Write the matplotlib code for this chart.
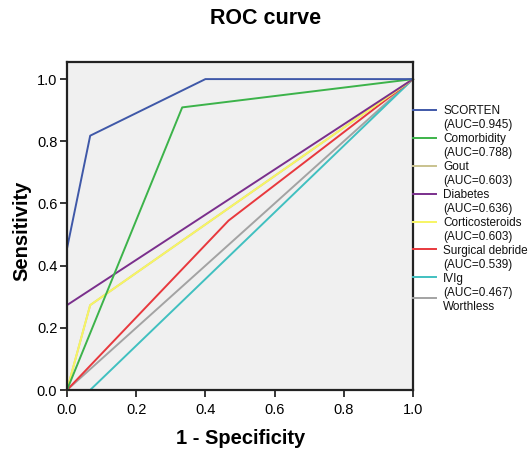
import matplotlib
matplotlib.use("Agg")
import matplotlib.pyplot as plt
from matplotlib.lines import Line2D

plt.rcParams['font.family'] = ['Liberation Sans', 'DejaVu Sans']

# ROC curve points (1 - specificity, sensitivity)
names = ['SCORTEN', 'Comorbidity', 'Gout', 'Diabetes', 'Corticosteroids',
         'Surgical debride', 'IVIg', 'Worthless']
aucs = [0.945, 0.788, 0.603, 0.636, 0.603, 0.539, 0.467, None]
colors = ['#3f58a8', '#3cb34a', '#c9c28e', '#7a2f8c', '#f7f563',
          '#e8383d', '#40c0c0', '#a3a3a3']

fpr_scorten = [0, 0, 0.067, 0.4, 1]
tpr_scorten = [0, 0.455, 0.818, 1, 1]
fpr_comorb = [0, 0.333, 1]
tpr_comorb = [0, 0.909, 1]
fpr_gout = [0, 0.067, 1]
tpr_gout = [0, 0.273, 1]
fpr_diab = [0, 0, 1]
tpr_diab = [0, 0.273, 1]
fpr_cort = [0, 0.067, 1]
tpr_cort = [0, 0.273, 1]
fpr_surg = [0, 0.467, 1]
tpr_surg = [0, 0.545, 1]
fpr_ivig = [0, 0.067, 1]
tpr_ivig = [0, 0, 1]
fpr_ref = [0, 1]
tpr_ref = [0, 1]

curves = [(fpr_scorten, tpr_scorten), (fpr_comorb, tpr_comorb),
          (fpr_gout, tpr_gout), (fpr_diab, tpr_diab), (fpr_cort, tpr_cort),
          (fpr_surg, tpr_surg), (fpr_ivig, tpr_ivig), (fpr_ref, tpr_ref)]

ticks = [0.0, 0.2, 0.4, 0.6, 0.8, 1.0]

fig = plt.figure(figsize=(5.28, 4.51), dpi=100)
ax = fig.add_axes([67/528, 1 - 390/451, 346/528, 328/451])
ax.set_facecolor('#f0f0f0')

# grey reference drawn first, then the rest (below the spines)
order = [7, 6, 5, 2, 4, 3, 1, 0]
for i in order:
    x, y = curves[i]
    ax.plot(x, y, color=colors[i], lw=1.4, clip_on=False, zorder=2)

ax.set_xlim(0, 1)
ax.set_ylim(0, 1.055)
ax.set_xticks(ticks)
ax.set_yticks(ticks)
ax.set_xticklabels([f'{t:.1f}' for t in ticks], fontsize=10.5)
ax.set_yticklabels([f'{t:.1f}' for t in ticks], fontsize=10.5)
ax.tick_params(axis='x', direction='out', length=5, width=1.1, color='black', pad=4)
ax.tick_params(axis='y', direction='out', length=5, width=1.1, color='black', pad=2)
for s in ax.spines.values():
    s.set_linewidth(1.6)
    s.set_color('#222222')
    s.set_zorder(3)

fig.text(266/528, 1 - 18/451, 'ROC curve', ha='center', va='center',
         fontsize=15.5, fontweight='bold')
fig.text(241/528, 1 - 438/451, '1 - Specificity', ha='center', va='center',
         fontsize=14.5, fontweight='bold')
fig.text(22/528, 1 - 231/451, 'Sensitivity', ha='center', va='center',
         fontsize=14.5, fontweight='bold', rotation=90)

# legend outside the plot, SPSS style
line_y = [110, 138, 166, 194, 222, 249, 277, 298]
text_lines = []
for n, a in zip(names, aucs):
    text_lines.append(n)
    if a is not None:
        text_lines.append(f'(AUC={a:.3f})')
for k, t in enumerate(text_lines):
    fig.text(443/528, 1 - (111 + 14.0 * k)/451, t, ha='left', va='center',
             fontsize=8.5, color='#111111')
for c, ly in zip(colors, line_y):
    fig.add_artist(Line2D([413/528, 436/528], [1 - ly/451, 1 - ly/451],
                          color=c, lw=1.4, transform=fig.transFigure))

fig.savefig('out.png', dpi=100)
